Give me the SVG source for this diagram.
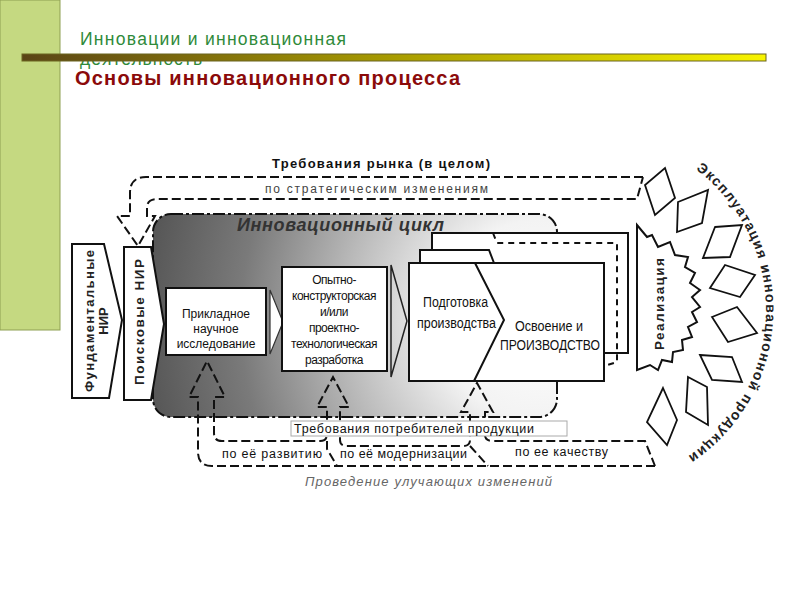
<svg xmlns="http://www.w3.org/2000/svg" width="800" height="600" viewBox="0 0 800 600">
<defs>
<style>
.t{font-family:"Liberation Sans",Arial,sans-serif}
.box{fill:#fff;stroke:#111;stroke-width:2}
.dash{fill:none;stroke:#111;stroke-width:2;stroke-dasharray:9 4}
.dd{stroke:#111;stroke-width:2;stroke-dasharray:12 3 3 3}
.dia{fill:#fff;stroke:#111;stroke-width:1.8}
.in{font-size:12px;fill:#111;text-anchor:middle}
</style>
<linearGradient id="bar" x1="0" y1="0" x2="1" y2="0">
<stop offset="0" stop-color="#5a4416"/>
<stop offset="0.5" stop-color="#a89c00"/>
<stop offset="1" stop-color="#f8f400"/>
</linearGradient>
<radialGradient id="cyc" gradientUnits="userSpaceOnUse" cx="540" cy="320" r="400">
<stop offset="0" stop-color="#ffffff"/>
<stop offset="0.25" stop-color="#f3f3f3"/>
<stop offset="0.5" stop-color="#b8b8b8"/>
<stop offset="0.75" stop-color="#7a7a7a"/>
<stop offset="1" stop-color="#555555"/>
</radialGradient>
<path id="arc" d="M 695.9,169.4 A 176 176 0 0 1 685.8,457.6"/>
</defs>
<rect width="800" height="600" fill="#fff"/>

<!-- header -->
<g id="header">
<rect x="0" y="0" width="60" height="330" fill="#c5d981" stroke="#8e9f52" stroke-width="1"/>
<text class="t" x="80" y="45" font-size="17.5" fill="#2f8a3a" textLength="266" lengthAdjust="spacing">Инновации и инновационная</text>
<text class="t" x="80" y="64.5" font-size="17.5" fill="#2f8a3a" textLength="122" lengthAdjust="spacing">деятельность</text>
<rect x="22" y="54" width="744" height="7" fill="url(#bar)" stroke="#6b6420" stroke-width="1"/>
<text class="t" x="75" y="85" font-size="20" font-weight="bold" fill="#8b0a0a" textLength="385" lengthAdjust="spacing">Основы инновационного процесса</text>
</g>

<!-- innovation cycle area -->
<g id="cycle">
<rect x="153" y="214" width="404" height="203" rx="18" class="dd" fill="url(#cyc)"/>
<text class="t" x="237" y="231" font-size="18" font-weight="bold" font-style="italic" fill="#333" textLength="207" lengthAdjust="spacing">Инновационный цикл</text>
</g>

<!-- connectors -->
<g id="connectors">
<path class="dash" d="M 643,177 H 146 Q 130,177 130,193 V 216 H 117 L 138,246 L 155,216 H 147 V 208 Q 147,199 157,199 H 637 L 643,177"/>
<path class="dash" d="M 655,466 H 212 Q 198,466 198,452 V 397 H 189 L 207,361 L 225,397 H 214 V 433 Q 214,441 222,441 H 320 Q 327,441 327,434 V 407 H 317 L 333,377 L 349,407 H 340 V 440 Q 340,446 347,446 H 463 Q 470,446 470,440 V 412 H 461 L 477,383 L 493,412 H 485 V 435 Q 485,441 493,441 H 645 L 655,466"/>
<path class="dash" d="M 327,441 V 449 L 337,466 M 470,446 L 488,466"/>
<polygon points="270,290 283,322 270,354" fill="#fff" stroke="#333" stroke-width="1.2"/>
<polygon points="391,265 407,321 391,377" fill="none" stroke="#222" stroke-width="1.5"/>
</g>

<!-- left boxes -->
<g id="fund">
<polygon class="box" points="72,244 104,244 122,320 109,398 72,398"/>
<text class="t" transform="translate(94,321) rotate(-90)" font-size="13" font-weight="bold" fill="#222" text-anchor="middle" textLength="142" lengthAdjust="spacing">Фундаментальные</text>
<text class="t" transform="translate(108,321) rotate(-90)" font-size="13" font-weight="bold" fill="#222" text-anchor="middle">НИР</text>
</g>
<g id="poisk">
<polygon class="box" points="124,247 151,247 164,324 151,400 124,400"/>
<text class="t" transform="translate(144,322) rotate(-90)" font-size="13.5" font-weight="bold" fill="#222" text-anchor="middle" textLength="126" lengthAdjust="spacing">Поисковые НИР</text>
</g>

<g id="prikl">
<rect class="box" x="166" y="288" width="100" height="67"/>
<text class="t in" x="216" y="318" font-size="12.5">Прикладное</text>
<text class="t in" x="216" y="333" font-size="12.5">научное</text>
<text class="t in" x="216" y="348" font-size="12.5">исследование</text>
</g>

<g id="opyt">
<rect class="box" x="282" y="267" width="105" height="104"/>
<text class="t in" x="334" y="284" letter-spacing="-0.5">Опытно-</text>
<text class="t in" x="334" y="300" letter-spacing="-0.5">конструкторская</text>
<text class="t in" x="334" y="316" letter-spacing="-0.5">и/или</text>
<text class="t in" x="334" y="332" letter-spacing="-0.5">проектно-</text>
<text class="t in" x="334" y="348" letter-spacing="-0.5">технологическая</text>
<text class="t in" x="334" y="364" letter-spacing="-0.5">разработка</text>
</g>

<g id="prod">
<polyline points="432,263 432,233 628,233 628,353 604,353" fill="#fff" stroke="#111" stroke-width="2"/>
<path d="M 493,233 L 497,243 H 617 V 362 L 604,366" fill="none" stroke="#111" stroke-width="2" stroke-dasharray="6 5"/>
<polyline points="420,263 420,250 489,250 494,263" fill="#fff" stroke="#111" stroke-width="2"/>
<rect class="box" x="409" y="263" width="195" height="118"/>
<polyline points="475,263 504,320 474,381" fill="none" stroke="#111" stroke-width="2"/>
<text class="t" x="423" y="307" font-size="14" fill="#111" textLength="65" lengthAdjust="spacingAndGlyphs">Подготовка</text>
<text class="t" x="417" y="328" font-size="14" fill="#111" textLength="79" lengthAdjust="spacingAndGlyphs">производства</text>
<text class="t" x="515" y="331" font-size="14" fill="#111" textLength="68" lengthAdjust="spacingAndGlyphs">Освоение и</text>
<text class="t" x="500" y="350" font-size="14" fill="#111" textLength="100" lengthAdjust="spacingAndGlyphs">ПРОИЗВОДСТВО</text>
</g>

<!-- top labels -->
<g id="market">
<text class="t" x="272" y="168" font-size="13" font-weight="bold" fill="#111" textLength="218" lengthAdjust="spacing">Требования рынка (в целом)</text>
<text class="t" x="265" y="193" font-size="12" fill="#444" textLength="223" lengthAdjust="spacing">по стратегическим изменениям</text>
</g>

<!-- bottom labels -->
<g id="consumers">
<rect x="291" y="421" width="276" height="15" fill="#fff" stroke="#aaa" stroke-width="1"/>
<text class="t" x="294" y="433" font-size="12.5" fill="#111" textLength="240" lengthAdjust="spacing">Требования потребителей продукции</text>
<text class="t" x="222" y="458" font-size="12.5" fill="#111" textLength="100" lengthAdjust="spacing">по её развитию</text>
<text class="t" x="340" y="458" font-size="12.5" fill="#111" textLength="127" lengthAdjust="spacing">по её модернизации</text>
<text class="t" x="515" y="456" font-size="12.5" fill="#111" textLength="93" lengthAdjust="spacing">по ее качеству</text>
<text class="t" x="305" y="486" font-size="13" font-style="italic" fill="#666" textLength="247" lengthAdjust="spacing">Проведение улучающих изменений</text>
</g>

<!-- realization -->
<g id="real">
<polygon points="637,225 647,237 652,235 658,247 670,242 675,255 688,257 685,267 695,273 690,283 700,290 692,297 700,307 692,312 697,322 688,327 692,337 682,340 683,350 673,352 672,362 662,360 658,370 650,365 637,370" fill="#fff" stroke="#111" stroke-width="2"/>
<text class="t" transform="translate(664,304) rotate(-90)" font-size="13.5" font-weight="bold" fill="#222" text-anchor="middle" textLength="92" lengthAdjust="spacing">Реализация</text>
</g>

<g id="exploit">
<polygon class="dia" points="665,168 675,198 655,215 645,185"/>
<polygon class="dia" points="678,202 708,190 702,223 677,232"/>
<polygon class="dia" points="715,227 742,225 730,257 703,258"/>
<polygon class="dia" points="710,288 725,265 755,275 740,297"/>
<polygon class="dia" points="712,317 737,307 757,333 728,342"/>
<polygon class="dia" points="700,355 732,357 742,382 712,380"/>
<polygon class="dia" points="688,377 707,387 708,425 686,412"/>
<polygon class="dia" points="663,388 677,420 667,445 647,422"/>
<text class="t" font-size="14" font-weight="bold" fill="#222"><textPath href="#arc" textLength="335" lengthAdjust="spacing">Эксплуатация инновационной продукции</textPath></text>
</g>
</svg>
